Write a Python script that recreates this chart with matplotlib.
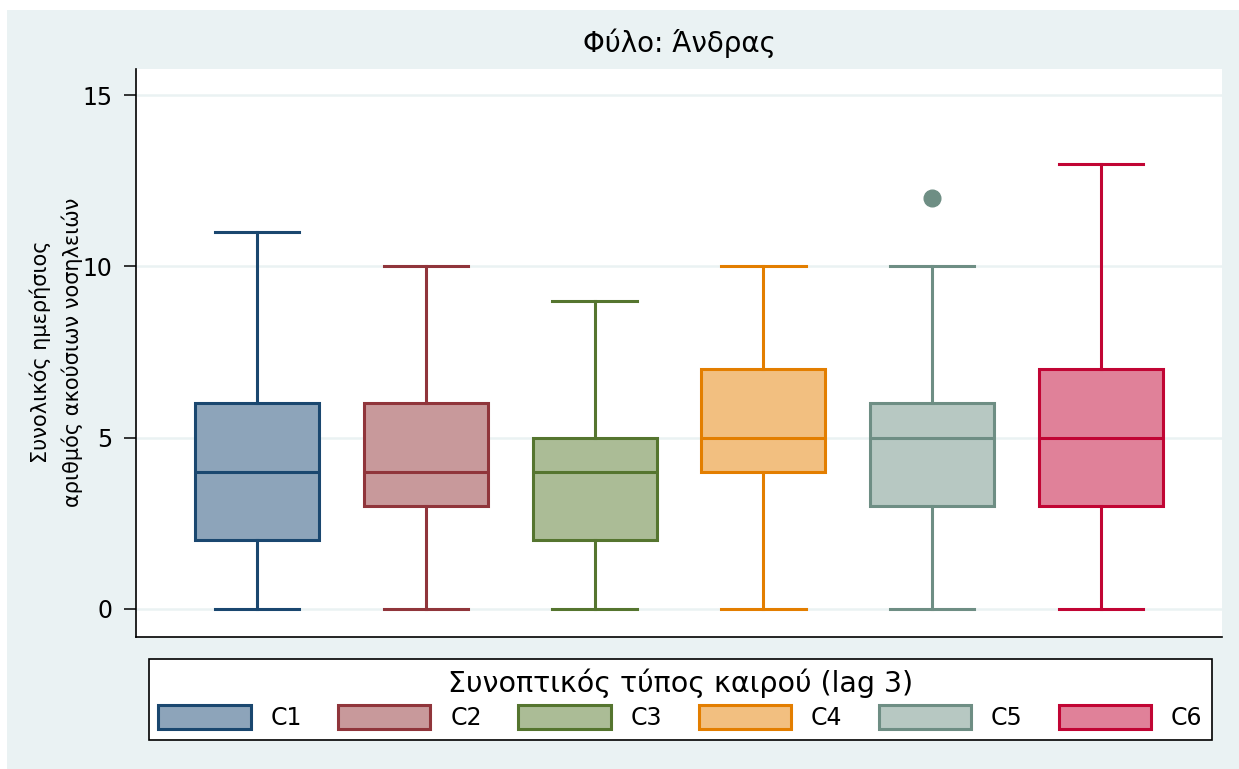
import matplotlib
matplotlib.use("Agg")
import matplotlib.pyplot as plt
from matplotlib.patches import Patch, Rectangle

plt.rcParams['font.family'] = ['DejaVu Sans']

# box plot summary per weather type
groups = ["C1", "C2", "C3", "C4", "C5", "C6"]
whislo = [0, 0, 0, 0, 0, 0]
q1 = [2, 3, 2, 4, 3, 3]
med = [4, 4, 4, 5, 5, 5]
q3 = [6, 6, 5, 7, 6, 7]
whishi = [11, 10, 9, 10, 10, 13]
fliers = [[], [], [], [], [12], []]

edge_cols = ["#1A476F", "#90353B", "#55752F", "#E37E00", "#6E8E84", "#C10534"]
fill_cols = ["#8DA4BA", "#C8999B", "#ABBC96", "#F2BF80", "#B7C8C2", "#E08199"]

bg = "#EAF2F3"

fig = plt.figure(figsize=(12.39, 7.69), dpi=100, facecolor="white")
# graph region background (thin white margin left/top)
fig.patches.append(Rectangle((7 / 1239, 0), 1, 1 - 10 / 769, transform=fig.transFigure,
                             facecolor=bg, edgecolor="none", zorder=-10))

ax = fig.add_axes([136 / 1239, 1 - 637 / 769, 1086 / 1239, 568 / 769])
ax.set_facecolor("white")

stats = []
for i, g in enumerate(groups):
    stats.append(dict(label=g, whislo=whislo[i], q1=q1[i], med=med[i],
                      q3=q3[i], whishi=whishi[i], fliers=fliers[i]))

for i, s in enumerate(stats):
    ax.bxp([s], positions=[i + 1], widths=0.735, capwidths=0.5,
           patch_artist=True, showfliers=True,
           boxprops=dict(facecolor=fill_cols[i], edgecolor=edge_cols[i], linewidth=2.2),
           whiskerprops=dict(color=edge_cols[i], linewidth=2.2),
           capprops=dict(color=edge_cols[i], linewidth=2.2),
           medianprops=dict(color=edge_cols[i], linewidth=2.2),
           flierprops=dict(marker="o", markerfacecolor=edge_cols[i],
                           markeredgecolor=edge_cols[i], markersize=12),
           zorder=3)

ax.set_xlim(0.283, 6.717)
ax.set_ylim(-0.82, 15.76)
ax.set_yticks([0, 5, 10, 15])
ax.set_xticks([])
ax.yaxis.grid(True, color=bg, linewidth=1.8, zorder=0)
ax.set_axisbelow(True)

for sp in ["top", "right"]:
    ax.spines[sp].set_visible(False)
ax.spines["left"].set_linewidth(1.2)
ax.spines["bottom"].set_linewidth(1.2)
ax.tick_params(axis="y", direction="out", length=9, width=1.1, pad=8, labelsize=17)

ax.set_title("Φύλο: Άνδρας", fontsize=20, pad=12)

fig.text(56 / 1239, 1 - 352 / 769, "Συνολικός ημερήσιος\nαριθμός ακούσιων νοσηλειών",
         rotation=90, ha="center", va="center", fontsize=15, linespacing=1.6)

handles = [Patch(facecolor=fill_cols[i], edgecolor=edge_cols[i], linewidth=2.2)
           for i in range(len(groups))]
leg = fig.legend(handles, groups, ncol=6, loc="center",
                 bbox_to_anchor=(149 / 1239, 1 - 743 / 769, 1063 / 1239, 87 / 769),
                 mode="expand", title="Συνοπτικός τύπος καιρού (lag 3)",
                 title_fontsize=20.5, fontsize=17, frameon=True, fancybox=False,
                 handlelength=3.9, handleheight=1.15, handletextpad=0.85,
                 borderaxespad=0, borderpad=0.4, labelspacing=0.3)
frame = leg.get_frame()
frame.set_edgecolor("black")
frame.set_linewidth(1.2)
frame.set_facecolor("white")
frame.set_alpha(1)

fig.savefig("out.png", dpi=100, facecolor=fig.get_facecolor())
